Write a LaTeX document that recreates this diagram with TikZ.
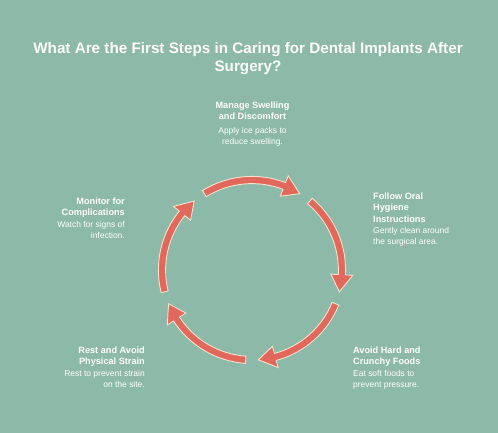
\documentclass[tikz,border=0pt]{standalone}
\usepackage{fontspec}
\setmainfont{Liberation Sans}
\definecolor{bgc}{RGB}{141,185,168}
\definecolor{arrowred}{RGB}{225,104,90}
\definecolor{cream}{RGB}{246,226,206}
\begin{document}
\begin{tikzpicture}[x=1bp,y=-1bp,
  titlestyle/.style={text=white,inner sep=0,align=center,font=\fontsize{15.3}{18}\selectfont\bfseries},
  headl/.style={text=white,inner sep=0,font=\fontsize{9.2}{11.5}\selectfont\bfseries},
  bodyl/.style={text=white,inner sep=0,font=\fontsize{8.5}{10.5}\selectfont},
  cyclearrow/.style={fill=arrowred,draw=cream,line width=0.9bp,line join=miter}]
\useasboundingbox[fill=bgc] (0,0) rectangle (498,433);
\node[titlestyle,anchor=north] (title) at (248,42.5) {What Are the First Steps in Caring for Dental Implants After\\Surgery?};
% top
\node[headl,align=center,anchor=north] (h1) at (252.5,101.5) {Manage Swelling\\and Discomfort};
\node[bodyl,align=center,anchor=north] (b1) at (252.5,127.5) {Apply ice packs to\\reduce swelling.};
% right
\node[headl,align=left,anchor=north west] (h2) at (373,192.5) {Follow Oral\\Hygiene\\Instructions};
\node[bodyl,align=left,anchor=north west] (b2) at (373,227.5) {Gently clean around\\the surgical area.};
% bottom right
\node[headl,align=left,anchor=north west] (h3) at (353,346.5) {Avoid Hard and\\Crunchy Foods};
\node[bodyl,align=left,anchor=north west] (b3) at (353,370.5) {Eat soft foods to\\prevent pressure.};
% bottom left
\node[headl,align=right,anchor=north east] (h4) at (145,346.5) {Rest and Avoid\\Physical Strain};
\node[bodyl,align=right,anchor=north east] (b4) at (145,370.5) {Rest to prevent strain\\on the site.};
% left
\node[headl,align=right,anchor=north east] (h5) at (125,197.5) {Monitor for\\Complications};
\node[bodyl,align=right,anchor=north east] (b5) at (125,221.5) {Watch for signs of\\infection.};
% cycle arrows
\begin{scope}[shift={(252,270)},yscale=-1]
\def\R{90}\def\w{3.6}\def\h{11}
\foreach \c in {90,18,-54,-126,-198}{
  \pgfmathsetmacro{\az}{\c+32}
  \pgfmathsetmacro{\aa}{\c-32+11}
  \pgfmathsetmacro{\ab}{\c-32}
  \draw[cyclearrow] (\az:\R+\w) arc[start angle=\az,end angle=\aa,radius=\R+\w]
    -- (\aa:\R+\h) -- (\ab:\R) -- (\aa:\R-\h) -- (\aa:\R-\w)
    arc[start angle=\aa,end angle=\az,radius=\R-\w] -- cycle;
}
\end{scope}
\end{tikzpicture}
\end{document}
